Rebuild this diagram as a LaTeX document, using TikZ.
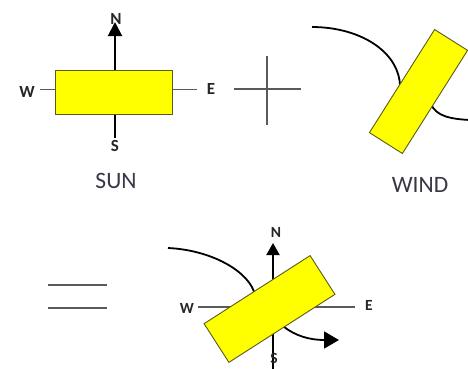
\documentclass[tikz,border=0pt]{standalone}
\usepackage{fontspec}
\setmainfont{Carlito}
\usetikzlibrary{arrows.meta}
\definecolor{panel}{RGB}{255,255,0}
\definecolor{panelborder}{RGB}{90,90,30}
\definecolor{axisgray}{RGB}{90,90,90}
\definecolor{txtgray}{RGB}{55,55,70}
\tikzset{
  axisline/.style={draw=axisgray, line width=1.3pt},
  northline/.style={draw=black, line width=2pt},
  windline/.style={draw=black, line width=1.8pt},
  opline/.style={draw=axisgray, line width=1.4pt},
  panelbox/.style={draw=panelborder, fill=panel, line width=0.9pt, rectangle, inner sep=0pt},
  dirlabel/.style={font=\fontsize{17}{17}\selectfont\bfseries, text=black!85, inner sep=0pt},
  dirlabelsmall/.style={font=\fontsize{15.5}{15.5}\selectfont\bfseries, text=black!85, inner sep=0pt},
  caption/.style={font=\fontsize{23.5}{23.5}\selectfont, text=txtgray, inner sep=0pt}
}
\begin{document}
\begin{tikzpicture}[x=1pt,y=-1pt]
\useasboundingbox (0,0) rectangle (468,368);

% ---------- SUN ----------
\coordinate (sW) at (40,89.5);
\coordinate (sE) at (197,89.5);
\coordinate (sS) at (115,138);
\coordinate (sN) at (115,22);
\draw[axisline] (sW) -- (sE);
\draw[northline, -{Triangle[length=14pt,width=14pt]}] (sS) -- (sN);
\node[panelbox, minimum width=117pt, minimum height=44pt] (sunrect) at (113.5,92) {};
\node[dirlabel] (sNl) at (116,19) {N};
\node[dirlabel] (sWl) at (27,92) {W};
\node[dirlabel] (sEl) at (211,89) {E};
\node[dirlabel] (sSl) at (115,146) {S};
\node[caption] (sun) at (116,181) {SUN};

% ---------- PLUS ----------
\coordinate (pL) at (234,89);
\coordinate (pR) at (301,89);
\coordinate (pT) at (267,56);
\coordinate (pB) at (267,125);
\draw[opline] (pL) -- (pR);
\draw[opline] (pT) -- (pB);

% ---------- WIND ----------
\coordinate (w1) at (312,27);
\coordinate (w2) at (400,85);
\coordinate (w3) at (431,104);
\coordinate (w4) at (470,120);
\draw[windline] (w1) .. controls (358,27) and (398,50) .. (w2);
\draw[windline] (w3) .. controls (436,116) and (450,119) .. (w4);
\node[panelbox, minimum width=122pt, minimum height=39pt, rotate=57.7] (windrect) at (418.5,91.5) {};
\node[caption] (wind) at (420,185) {WIND};

% ---------- EQUALS ----------
\coordinate (e1) at (48,285);
\coordinate (e2) at (107,285);
\coordinate (e3) at (48,308);
\coordinate (e4) at (107,308);
\draw[opline] (e1) -- (e2);
\draw[opline] (e3) -- (e4);

% ---------- RESULT ----------
\coordinate (rW) at (198,307);
\coordinate (rE) at (355,307);
\coordinate (rS) at (273,372);
\coordinate (rN) at (273,243);
\coordinate (c1) at (168,248);
\coordinate (c2) at (255,295);
\coordinate (c3) at (283,326);
\coordinate (c4) at (339,340);
\draw[axisline] (rW) -- (rE);
\draw[northline, -{Triangle[length=12pt,width=13pt]}] (rS) -- (rN);
\draw[windline] (c1) .. controls (212,250) and (250,272) .. (c2);
\draw[windline, -{Triangle[length=15pt,width=17pt]}] (c3) .. controls (295,336) and (310,340) .. (c4);
\node[panelbox, minimum width=126pt, minimum height=46pt, rotate=32.7] (resrect) at (269.5,309) {};
\node[dirlabelsmall] (rNl) at (276,232) {N};
\node[dirlabelsmall] (rWl) at (187,308) {W};
\node[dirlabelsmall] (rEl) at (369,305) {E};
\node[dirlabelsmall] (rSl) at (274,358) {S};
\end{tikzpicture}
\end{document}
